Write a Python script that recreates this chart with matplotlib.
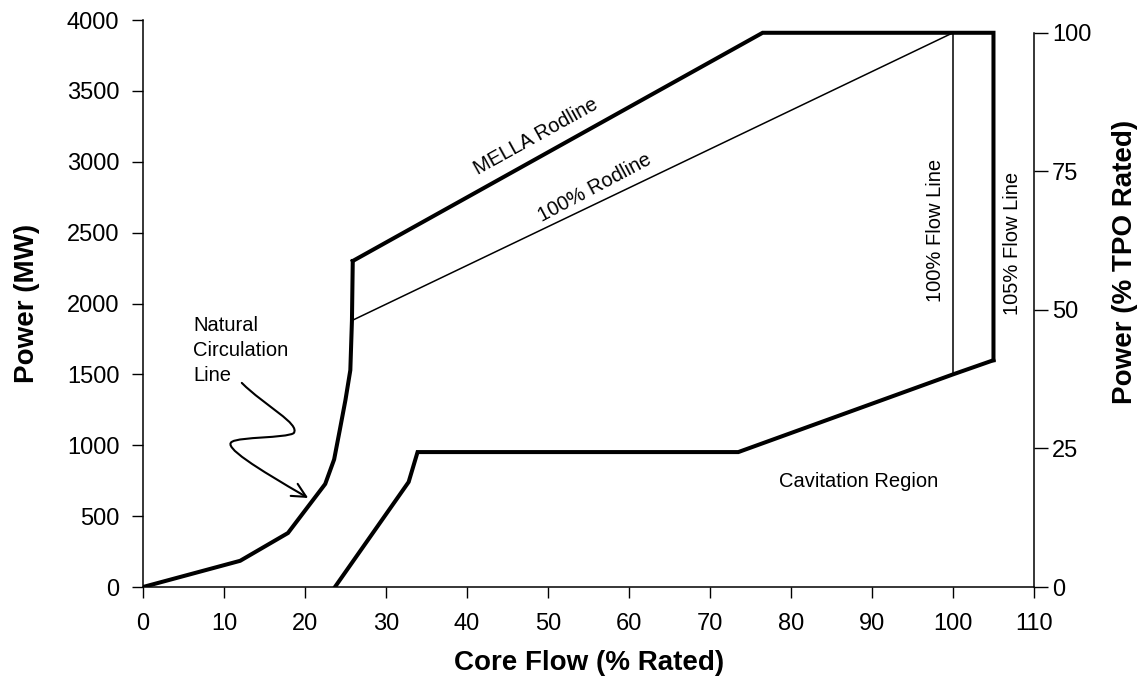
import numpy as np
import matplotlib
matplotlib.use("Agg")
import matplotlib.pyplot as plt
from matplotlib.path import Path
from matplotlib.patches import FancyArrowPatch

plt.rcParams['font.family'] = ['Liberation Sans', 'DejaVu Sans']

# power-flow map data (core flow % rated, power MW)
rated_mw = 3910

nat_flow = [0, 12.0, 17.9, 22.5, 23.6, 24.3, 25.0, 25.6, 25.8, 25.9]
nat_power = [0, 185, 381, 727, 900, 1108, 1320, 1530, 1880, 2300]

mella_flow = [25.9, 76.5, 105, 105]
mella_power = [2300, 3910, 3910, 1600]

rod100_flow = [25.8, 100]
rod100_power = [1880, 3910]

flow100_flow = [100, 100]
flow100_power = [1500, 3910]

cav_flow = [23.7, 32.8, 33.9, 73.5, 100, 105]
cav_power = [0, 741, 952, 952, 1500, 1600]

x_ticks = list(range(0, 111, 10))
left_ticks = list(range(0, 4001, 500))
right_ticks = [0, 25, 50, 75, 100]

fig = plt.figure(figsize=(11.41, 6.81), dpi=100)
ax = fig.add_axes([0.1253, 0.138, 0.9062 - 0.1253, 0.9706 - 0.138])

thick = 2.9
thin = 1.1
ax.plot(nat_flow, nat_power, color='black', lw=thick, solid_joinstyle='miter')
ax.plot(mella_flow, mella_power, color='black', lw=thick, solid_joinstyle='miter')
ax.plot(rod100_flow, rod100_power, color='black', lw=thin)
ax.plot(flow100_flow, flow100_power, color='black', lw=thin)
ax.plot(cav_flow, cav_power, color='black', lw=thick, solid_joinstyle='miter')

ax.set_xlim(0, 110)
ax.set_ylim(0, 4000)
ax.set_xticks(x_ticks)
ax.set_yticks(left_ticks)
ax.tick_params(axis='both', direction='out', length=8, width=1, labelsize=17)
ax.tick_params(axis='x', pad=11)
ax.tick_params(axis='y', pad=9)
ax.spines['top'].set_visible(False)
ax.spines['right'].set_visible(False)
for s in ('left', 'bottom'):
    ax.spines[s].set_linewidth(1.1)

ax2 = ax.twinx()
ax2.set_ylim(0, 4000 / rated_mw * 100)
ax2.set_yticks(right_ticks)
ax2.tick_params(axis='y', direction='out', length=10, width=1, labelsize=17, pad=3)
for s in ('top', 'left', 'bottom'):
    ax2.spines[s].set_visible(False)
ax2.spines['right'].set_bounds(0, 100)
ax2.spines['right'].set_linewidth(1.1)

# axis titles
fig.text(589 / 1141, 1 - 663 / 681, 'Core Flow (% Rated)', fontsize=20,
         fontweight='bold', ha='center', va='center')
fig.text(27 / 1141, 1 - 303 / 681, 'Power (MW)', fontsize=20, fontweight='bold',
         rotation=90, ha='center', va='center')
fig.text(1125 / 1141, 1 - 262 / 681, 'Power (% TPO Rated)', fontsize=20,
         fontweight='bold', rotation=90, ha='center', va='center')

fs = 14.5
ax.text(48.5, 3180, 'MELLA Rodline', rotation=29, ha='center', va='center', fontsize=fs)
ax.text(55.8, 2815, '100% Rodline', rotation=28, ha='center', va='center', fontsize=fs)
ax.text(97.8, 2519, '100% Flow Line', rotation=90, ha='center', va='center', fontsize=fs)
ax.text(107.4, 2427, '105% Flow Line', rotation=90, ha='center', va='center', fontsize=fs)
ax.text(88.4, 741, 'Cavitation Region', ha='center', va='center', fontsize=fs)
ax.text(6.2, 1910, 'Natural\nCirculation\nLine', ha='left', va='top', fontsize=fs,
        linespacing=1.38)

arrow_verts = [(12.2, 1440), (15.0, 1280), (19.5, 1150), (18.6, 1085),
               (17.5, 1050), (12.0, 1060), (11.0, 1025),
               (9.8, 990), (14.0, 840), (20.4, 628)]
arrow_codes = [Path.MOVETO] + [Path.CURVE4] * 9
arrow = FancyArrowPatch(path=Path(arrow_verts, arrow_codes),
                        arrowstyle='->,head_length=10,head_width=5',
                        color='black', lw=1.5, mutation_scale=1)
ax.add_patch(arrow)

fig.savefig('out.png', dpi=100)
